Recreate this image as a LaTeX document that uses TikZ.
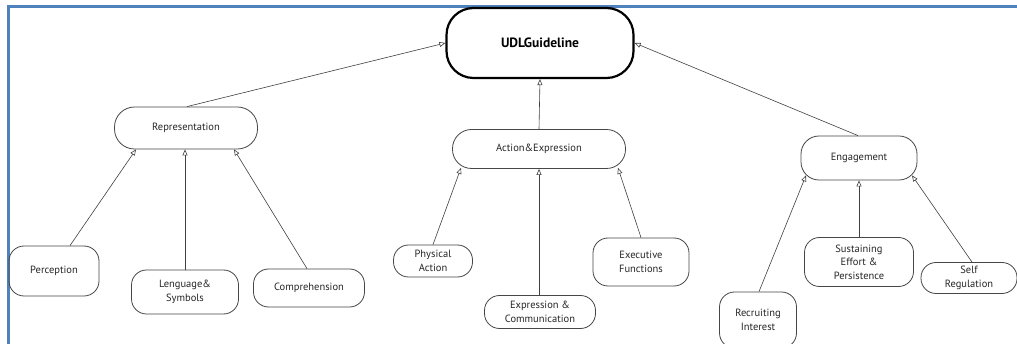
\documentclass[tikz,border=0pt]{standalone}
\usepackage{fontspec}
\setmainfont{PT Sans}
\usetikzlibrary{arrows.meta}
\definecolor{frameblue}{RGB}{79,129,189}
\definecolor{boxline}{RGB}{70,70,70}
\begin{document}
\begin{tikzpicture}[x=1pt,y=-1pt,
  box/.style={draw=boxline,line width=0.8pt,rounded corners=15pt,align=center,inner sep=0pt,
    font=\fontsize{10.5}{13.5}\selectfont,text=black!85},
  root/.style={draw=black,line width=2.2pt,rounded corners=27pt,align=center,inner sep=0pt,
    font=\fontsize{13.5}{16}\selectfont\bfseries},
  link/.style={draw=black!75,line width=0.6pt,-{Triangle[open,length=6pt,width=5pt]}}]
\useasboundingbox (0,0) rectangle (1017,344);
\fill[white] (0,0) rectangle (1017,344);
\draw[frameblue,line width=3pt] (8,344) -- (8,7) -- (1017,7);

\node[root,minimum width=187pt,minimum height=70pt] (udl) at (540,43) {UDLGuideline};
\node[box,minimum width=143pt,minimum height=42pt,rounded corners=20pt] (rep) at (186,128) {Representation};
\node[box,minimum width=173pt,minimum height=39pt,rounded corners=19pt] (act) at (539,149) {Action\&Expression};
\node[box,minimum width=116pt,minimum height=44pt,rounded corners=18pt] (eng) at (859,158) {Engagement};

\node[box,minimum width=90pt,minimum height=50pt] (perc) at (54,271) {Perception};
\node[box,minimum width=107pt,minimum height=44pt] (leng) at (185,292) {Lenguage\&\\Symbols};
\node[box,minimum width=111pt,minimum height=38pt] (comp) at (309,288) {Comprehension};

\node[box,minimum width=79pt,minimum height=32pt] (phys) at (433,261) {Physical\\Action};
\node[box,minimum width=111pt,minimum height=33pt] (expr) at (540,312) {Expression \&\\Communication};
\node[box,minimum width=96pt,minimum height=48pt] (exec) at (641,262) {Executive\\Functions};

\node[box,minimum width=77pt,minimum height=56pt] (recr) at (758,320) {Recruiting\\Interest};
\node[box,minimum width=109pt,minimum height=49pt] (sust) at (859,262) {Sustaining\\Effort \&\\Persistence};
\node[box,minimum width=96pt,minimum height=31pt] (self) at (969,278) {Self\\Regulation};

% top level
\draw[link] ([xshift=1pt]rep.north) -- (udl.west);
\draw[link] (act.north) -- (udl.south);
\draw[link] ([xshift=-1pt]eng.north) -- (udl.east);

% representation
\draw[link] ([xshift=16pt]perc.north) -- ([xshift=-50pt]rep.south);
\draw[link] (leng.north) -- (leng.north |- rep.south);
\draw[link] ([xshift=-2pt]comp.north) -- ([xshift=48pt]rep.south);

% action & expression
\draw[link] (phys.north) -- ([xshift=-78pt,yshift=1pt]act.south);
\draw[link] (expr.north -| act.south) -- (act.south);
\draw[link] (exec.north) -- ([xshift=79pt,yshift=1pt]act.south);

% engagement
\draw[link] ([xshift=1pt]recr.north) -- ([xshift=-53pt,yshift=5pt]eng.south);
\draw[link] (sust.north) -- (eng.south);
\draw[link] ([xshift=3pt]self.north) -- ([xshift=53pt,yshift=5pt]eng.south);
\end{tikzpicture}
\end{document}
